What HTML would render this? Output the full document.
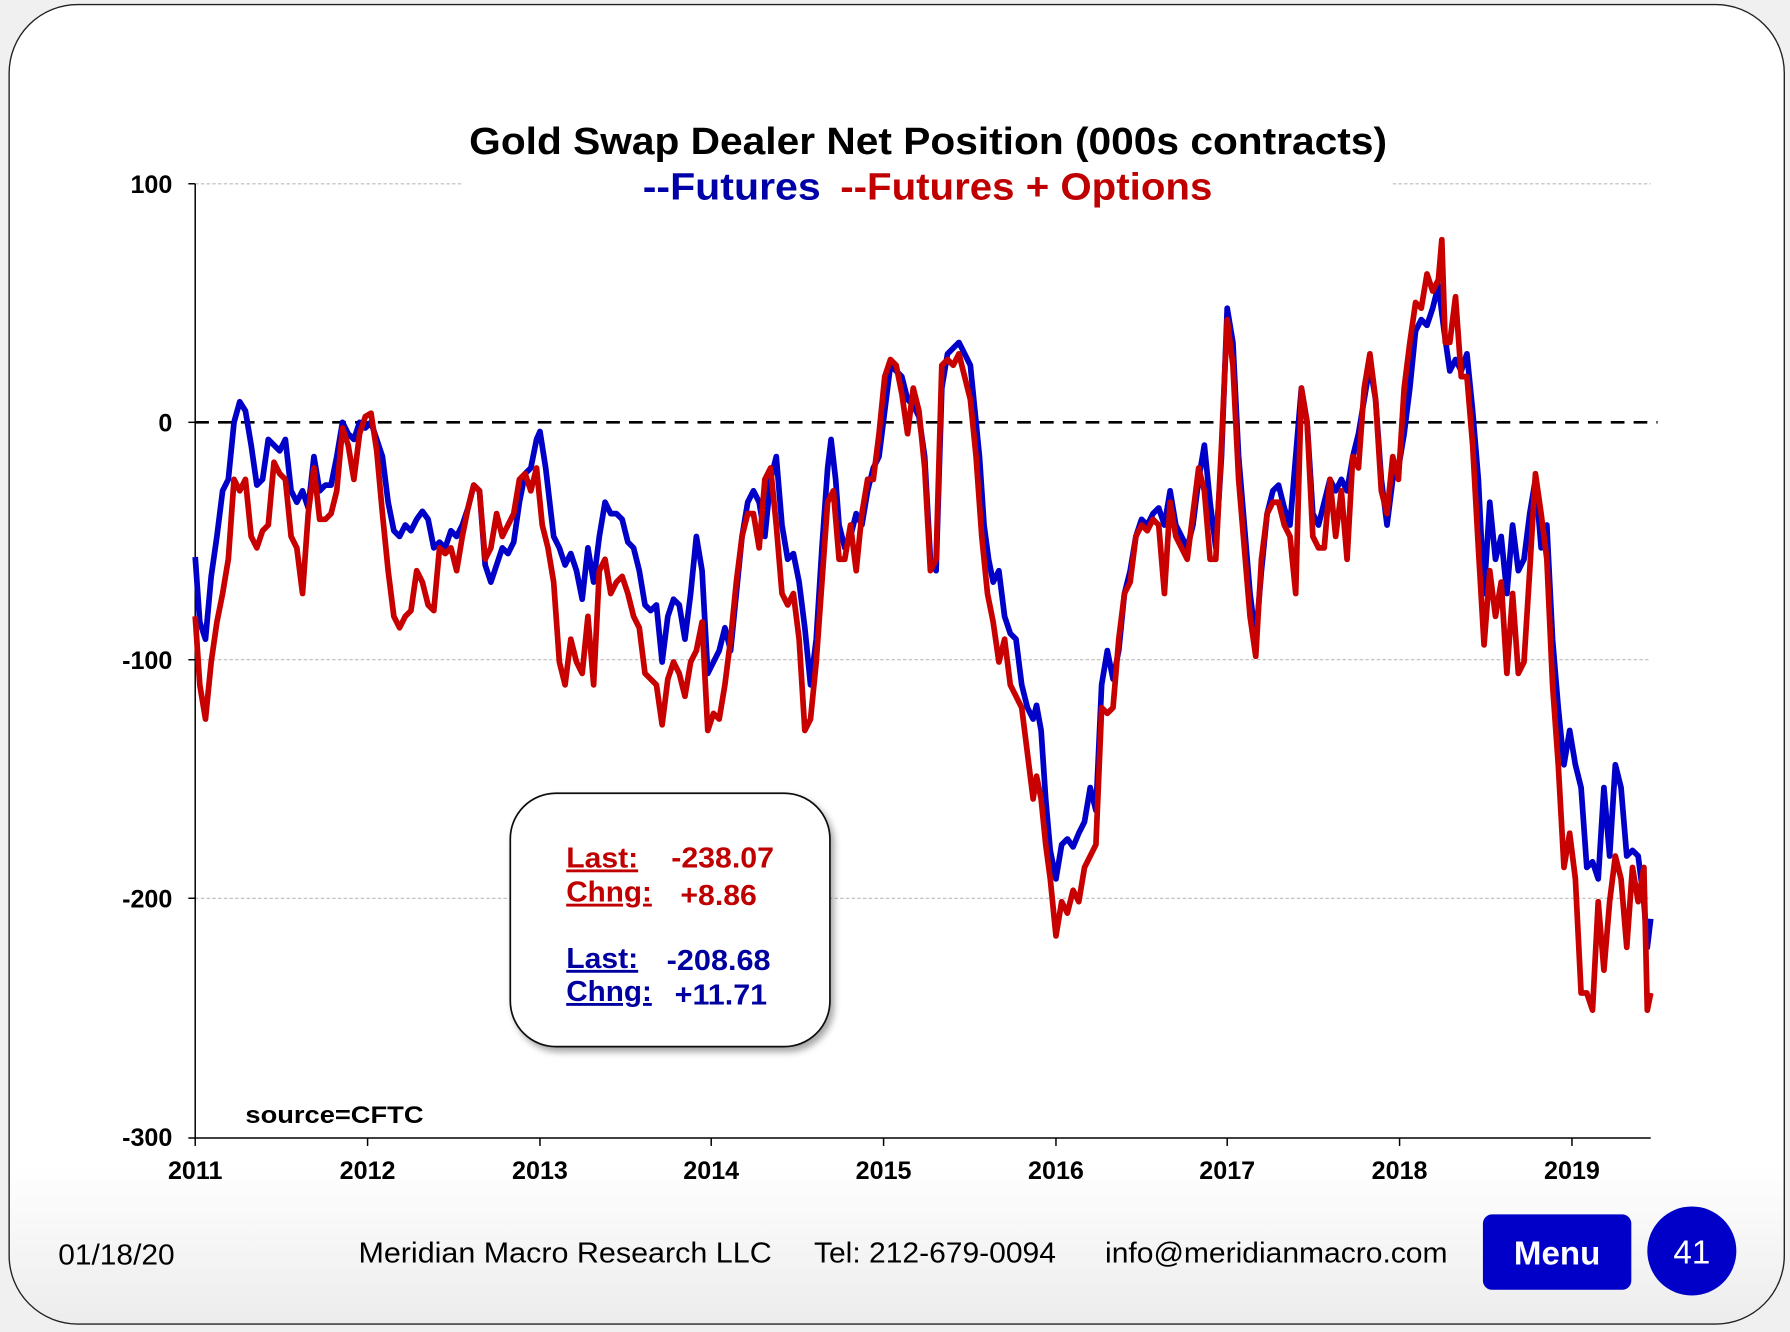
<!DOCTYPE html>
<html><head><meta charset="utf-8"><style>html,body{margin:0;padding:0;background:#f2f2f2}svg{display:block}</style></head>
<body>
<svg width="1790" height="1332" viewBox="0 0 1568 1167" preserveAspectRatio="none" xmlns="http://www.w3.org/2000/svg" font-family="Liberation Sans, Arial, sans-serif">
<defs>
<linearGradient id="bg" x1="0" y1="0" x2="0" y2="1"><stop offset="0.88" stop-color="#fff"/><stop offset="1" stop-color="#ececec"/></linearGradient>
<filter id="sh" x="-10%" y="-10%" width="130%" height="130%"><feDropShadow dx="3" dy="4" stdDeviation="3" flood-color="#000" flood-opacity="0.35"/></filter>
</defs>
<rect x="0" y="0" width="1568" height="1167" fill="#f0f0f0"/>
<rect x="8" y="4" width="1555" height="1156" rx="60" ry="60" fill="url(#bg)" stroke="#222" stroke-width="1.2"/>
<g stroke="#bbb" stroke-width="1" stroke-dasharray="3,2">
<line x1="171" y1="161" x2="405" y2="161"/><line x1="1220" y1="161" x2="1446" y2="161"/>
<line x1="171" y1="578" x2="1446" y2="578"/>
<line x1="171" y1="787" x2="1446" y2="787"/>
</g>
<line x1="171" y1="370" x2="1452" y2="370" stroke="#000" stroke-width="2.2" stroke-dasharray="12,8"/>
<g stroke="#000" stroke-width="1.3">
<line x1="171" y1="161" x2="171" y2="997"/><line x1="165" y1="997" x2="1446" y2="997"/>
<line x1="165" y1="161" x2="171" y2="161"/><line x1="165" y1="370" x2="171" y2="370"/><line x1="165" y1="578" x2="171" y2="578"/><line x1="165" y1="787" x2="171" y2="787"/>
<line x1="171" y1="997" x2="171" y2="1004"/><line x1="322" y1="997" x2="322" y2="1004"/><line x1="473" y1="997" x2="473" y2="1004"/><line x1="623" y1="997" x2="623" y2="1004"/><line x1="774" y1="997" x2="774" y2="1004"/><line x1="925" y1="997" x2="925" y2="1004"/><line x1="1075" y1="997" x2="1075" y2="1004"/><line x1="1226" y1="997" x2="1226" y2="1004"/><line x1="1377" y1="997" x2="1377" y2="1004"/>
</g>
<g font-weight="bold" font-size="22" text-anchor="end" fill="#000">
<text x="151" y="169">100</text><text x="151" y="378">0</text><text x="151" y="586">-100</text><text x="151" y="795">-200</text><text x="151" y="1004">-300</text>
</g>
<g font-weight="bold" font-size="22" text-anchor="middle" fill="#000">
<text x="171" y="1033">2011</text><text x="322" y="1033">2012</text><text x="473" y="1033">2013</text><text x="623" y="1033">2014</text><text x="774" y="1033">2015</text><text x="925" y="1033">2016</text><text x="1075" y="1033">2017</text><text x="1226" y="1033">2018</text><text x="1377" y="1033">2019</text>
</g>
<text x="215" y="984" font-weight="bold" font-size="21" textLength="156" lengthAdjust="spacingAndGlyphs">source=CFTC</text>
<text x="411" y="135" font-weight="bold" font-size="33" textLength="804" lengthAdjust="spacingAndGlyphs">Gold Swap Dealer Net Position  (000s contracts)</text>
<text x="563" y="175" font-weight="bold" font-size="33" textLength="156" lengthAdjust="spacingAndGlyphs" fill="#0000a8">--Futures</text>
<text x="736" y="175" font-weight="bold" font-size="33" textLength="326" lengthAdjust="spacingAndGlyphs" fill="#c00000">--Futures + Options</text>
<polyline fill="none" stroke="#0000c8" stroke-width="5" stroke-linejoin="round" points="171,488 175,545 180,560 185,505 190,470 195,430 200,420 205,370 210,352 215,360 220,390 225,425 230,420 235,385 240,390 245,395 250,385 255,430 260,440 265,430 270,445 275,400 280,430 285,425 290,425 295,400 300,370 305,380 310,385 315,370 320,375 325,370 330,385 335,400 340,440 345,465 350,470 355,460 360,465 365,455 370,448 375,455 380,480 385,475 390,480 395,465 400,470 405,460 410,445 415,425 420,430 425,495 430,510 435,495 440,480 445,485 450,475 455,440 460,415 465,410 470,385 473,378 478,410 485,470 490,480 495,495 500,485 505,500 510,525 515,480 520,510 525,470 530,440 535,450 540,450 545,455 550,475 555,480 560,500 565,530 570,535 575,530 580,580 585,540 590,525 595,530 600,560 605,520 610,470 615,500 620,590 625,580 630,570 635,550 640,570 645,520 650,470 655,440 660,430 665,440 670,470 675,420 680,400 685,460 690,490 695,485 700,510 705,550 710,600 715,560 720,480 725,410 728,385 732,420 735,460 740,480 745,470 750,450 755,460 760,430 765,410 770,400 775,360 780,320 785,325 790,330 795,350 800,355 805,365 810,400 815,490 820,500 825,340 830,310 835,305 840,300 845,310 850,320 853,350 858,400 862,460 866,490 870,510 875,500 880,540 885,555 890,560 895,600 900,620 905,630 908,618 912,640 916,700 920,745 925,770 930,740 935,735 940,742 945,730 950,720 955,690 960,710 965,600 970,570 975,595 980,570 985,520 990,500 995,470 1000,455 1005,460 1010,450 1015,445 1020,460 1025,430 1030,460 1035,470 1040,480 1045,460 1050,420 1055,390 1060,440 1065,480 1070,400 1075,270 1080,300 1085,400 1090,460 1095,520 1100,560 1105,500 1110,450 1115,430 1120,425 1125,445 1130,460 1135,400 1140,340 1145,370 1150,450 1155,460 1160,440 1165,420 1170,430 1175,420 1180,430 1185,400 1190,380 1195,350 1200,320 1205,350 1210,420 1215,460 1220,420 1225,410 1230,380 1235,340 1240,290 1245,280 1250,285 1255,270 1260,250 1265,290 1270,325 1275,315 1280,325 1285,310 1290,360 1295,420 1300,520 1305,440 1310,490 1315,470 1320,520 1325,460 1330,500 1335,490 1340,450 1345,420 1350,480 1355,460 1360,560 1365,620 1370,670 1375,640 1380,670 1385,690 1390,760 1395,755 1400,770 1405,690 1410,750 1415,670 1420,690 1425,750 1430,745 1435,750 1440,790 1443,830 1446,805"/>
<polyline fill="none" stroke="#c80000" stroke-width="5" stroke-linejoin="round" points="171,540 175,600 180,630 185,580 190,545 195,520 200,490 205,420 210,430 215,420 220,470 225,480 230,465 235,460 240,405 245,415 250,420 255,470 260,480 265,520 270,450 275,410 280,455 285,455 290,450 295,430 300,375 305,390 310,420 315,380 320,365 325,362 330,395 335,450 340,500 345,540 350,550 355,540 360,535 365,500 370,510 375,530 380,535 385,480 390,485 395,480 400,500 405,470 410,445 415,425 420,430 425,490 430,480 435,450 440,470 445,460 450,450 455,420 460,415 465,430 470,410 475,460 480,480 485,510 490,580 495,600 500,560 505,580 510,590 515,540 520,600 525,500 530,490 535,520 540,510 545,505 550,520 555,540 560,550 565,590 570,595 575,600 580,635 585,595 590,580 595,590 600,610 605,580 610,570 615,545 620,640 625,625 630,630 635,600 640,560 645,510 650,470 655,450 660,450 665,480 670,420 675,410 680,460 685,520 690,530 695,520 700,560 705,640 710,630 715,580 720,510 725,440 730,430 735,490 740,490 745,460 750,500 755,450 760,420 765,420 770,380 775,330 780,315 785,320 790,345 795,380 800,340 805,360 810,410 815,500 820,490 825,320 830,315 835,320 840,310 845,330 850,350 855,400 860,470 865,520 870,545 875,580 880,560 885,600 890,610 895,620 900,660 905,700 908,680 912,700 916,740 920,770 925,820 930,790 935,800 940,780 945,790 950,760 955,750 960,740 965,620 970,625 975,620 980,560 985,520 990,510 995,470 1000,460 1005,465 1010,455 1015,460 1020,520 1025,440 1030,470 1035,480 1040,490 1045,450 1050,410 1055,430 1060,490 1065,490 1070,390 1075,280 1080,320 1085,420 1090,480 1095,540 1100,575 1105,490 1110,450 1115,440 1120,440 1125,460 1130,470 1135,520 1140,340 1145,370 1150,470 1155,480 1160,480 1165,420 1170,470 1175,430 1180,490 1185,400 1190,410 1195,340 1200,310 1205,350 1210,430 1215,450 1220,400 1225,420 1230,340 1235,300 1240,265 1245,270 1250,240 1255,255 1260,245 1263,210 1266,300 1270,300 1275,260 1280,330 1285,330 1290,390 1295,480 1300,565 1305,500 1310,540 1315,510 1320,590 1325,520 1330,590 1335,580 1340,500 1345,415 1350,450 1355,490 1360,600 1365,670 1370,760 1375,730 1380,770 1385,870 1390,870 1395,885 1400,790 1405,850 1410,790 1415,750 1420,770 1425,830 1430,760 1435,790 1440,760 1443,885 1446,870"/>
<rect x="447" y="695" width="280" height="222" rx="40" ry="40" fill="#fff" stroke="#111" stroke-width="1.5" filter="url(#sh)"/>
<g font-weight="bold" font-size="25">
<text x="496" y="760" fill="#c00000" text-decoration="underline" textLength="63" lengthAdjust="spacingAndGlyphs">Last:</text>
<text x="588" y="760" fill="#c00000" textLength="90" lengthAdjust="spacingAndGlyphs">-238.07</text>
<text x="496" y="790" fill="#c00000" text-decoration="underline" textLength="75" lengthAdjust="spacingAndGlyphs">Chng:</text>
<text x="596" y="793" fill="#c00000" textLength="67" lengthAdjust="spacingAndGlyphs">+8.86</text>
<text x="496" y="848" fill="#0000a0" text-decoration="underline" textLength="63" lengthAdjust="spacingAndGlyphs">Last:</text>
<text x="584" y="850" fill="#0000a0" textLength="91" lengthAdjust="spacingAndGlyphs">-208.68</text>
<text x="496" y="877" fill="#0000a0" text-decoration="underline" textLength="75" lengthAdjust="spacingAndGlyphs">Chng:</text>
<text x="591" y="880" fill="#0000a0" textLength="81" lengthAdjust="spacingAndGlyphs">+11.71</text>
</g>
<g font-size="25" fill="#000">
<text x="51" y="1108" textLength="102" lengthAdjust="spacingAndGlyphs">01/18/20</text>
<text x="314" y="1106" textLength="362" lengthAdjust="spacingAndGlyphs">Meridian Macro Research  LLC</text>
<text x="713" y="1106" textLength="212" lengthAdjust="spacingAndGlyphs">Tel: 212-679-0094</text>
<text x="968" y="1106" textLength="300" lengthAdjust="spacingAndGlyphs">info@meridianmacro.com</text>
</g>
<rect x="1299" y="1064" width="130" height="66" rx="8" fill="#0000c8"/>
<text x="1364" y="1108" text-anchor="middle" font-weight="bold" font-size="29" fill="#fff">Menu</text>
<circle cx="1482" cy="1096" r="39" fill="#0000c8"/>
<text x="1482" y="1107" text-anchor="middle" font-size="29" fill="#fff">41</text>
</svg>
</body></html>
